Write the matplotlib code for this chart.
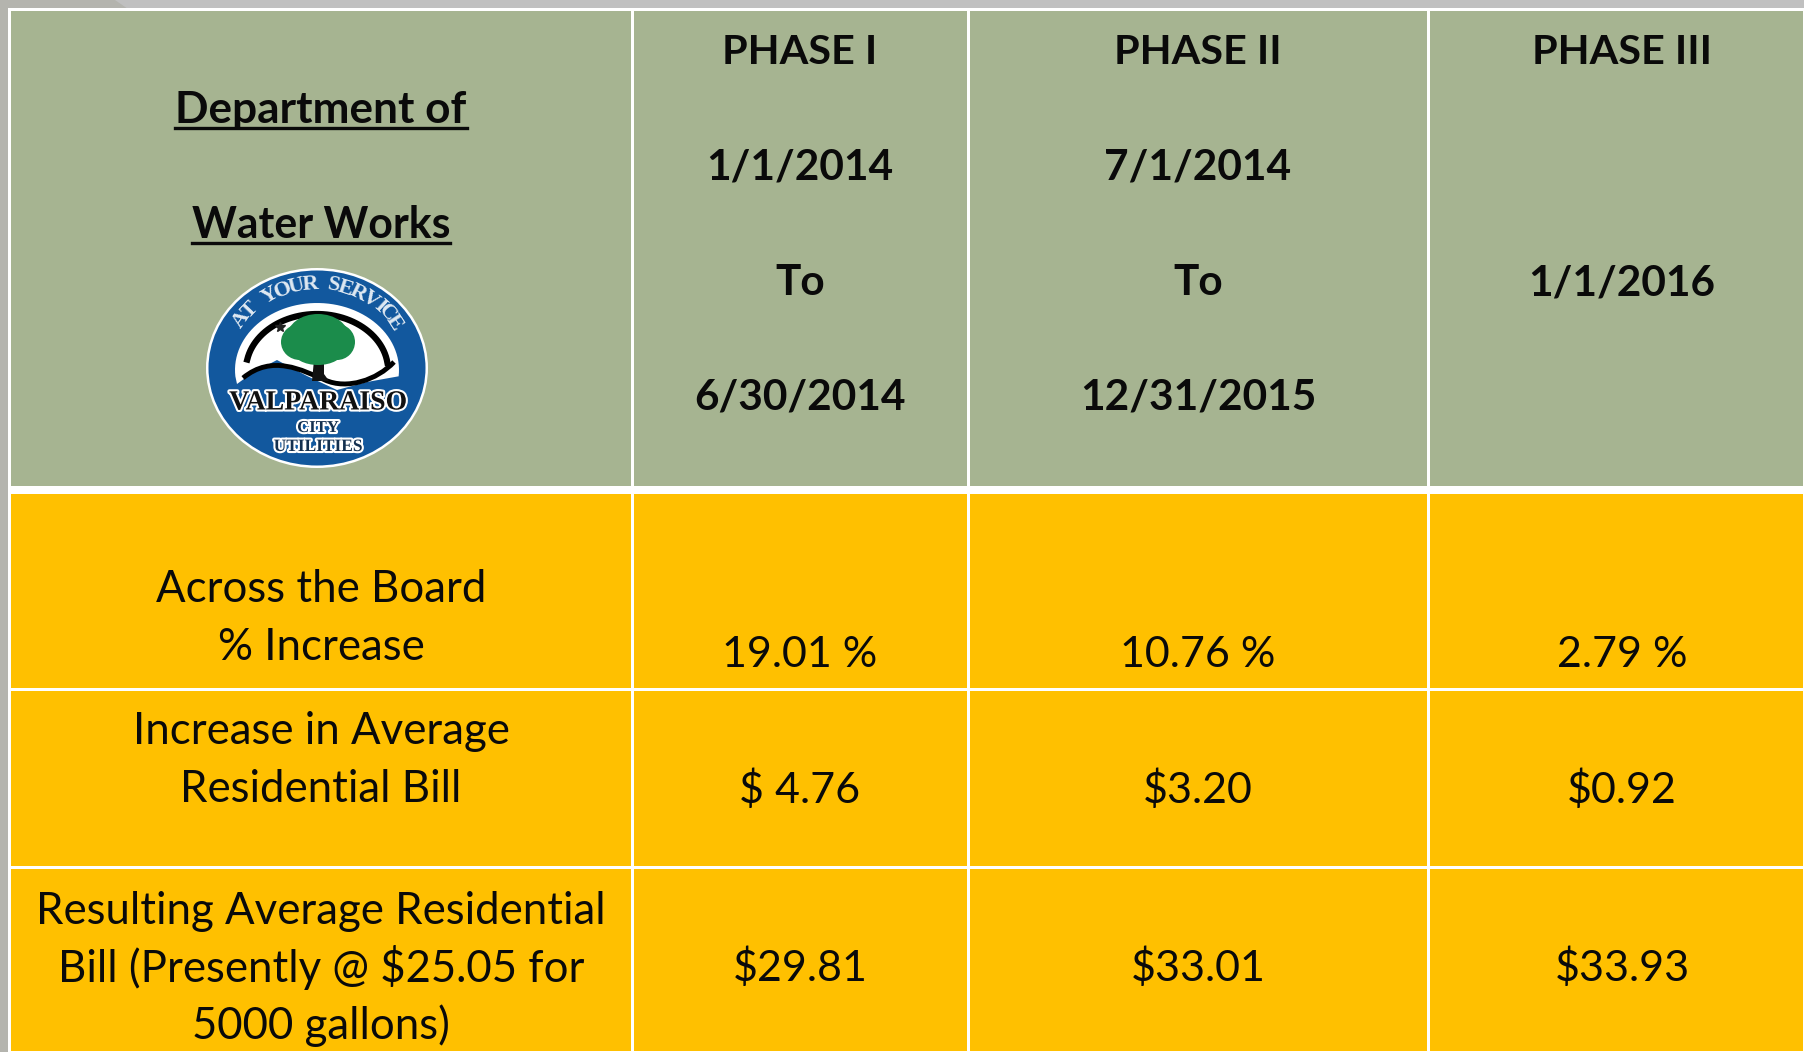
import numpy as np
import matplotlib
matplotlib.use("Agg")
import matplotlib.pyplot as plt
import matplotlib.patheffects as pe
from matplotlib.font_manager import FontProperties
from matplotlib.patches import Rectangle, Ellipse, Polygon, PathPatch
from matplotlib.path import Path
from matplotlib.textpath import TextPath

phase_titles = ["PHASE I", "PHASE II", "PHASE III"]
phase_lines = [["1/1/2014", "To", "6/30/2014"],
               ["7/1/2014", "To", "12/31/2015"],
               ["", "1/1/2016", ""]]
dept_lines = ["Department of", "Water Works"]
row_labels = [["Across the Board", "% Increase"],
              ["Increase in Average", "Residential Bill"],
              ["Resulting Average Residential", "Bill (Presently @ $25.05 for", "5000 gallons)"]]
pct_increase = ["19.01 %", "10.76 %", "2.79 %"]
bill_increase = ["$ 4.76", "$3.20", "$0.92"]
resulting_bill = ["$29.81", "$33.01", "$33.93"]

GREEN = "#a6b491"
GOLD = "#ffc000"
BLUE = "#12589e"
FONT = "Lato"

col_edges = [10, 632, 968, 1428, 1804]
col_centers = [321, 800, 1198, 1622]
row_edges = [494, 689, 867, 1052]
value_y = [655, 790, 968]
label_y = [[590, 648], [731, 790], [911, 968, 1026]]
header_y = [52, 168, 283, 398]


def draw_logo(ax, cx, cy):
    ax.add_patch(Ellipse((cx, cy), 222, 200, fc="white", ec="none", zorder=3))
    ax.add_patch(Ellipse((cx, cy), 217, 195, fc=BLUE, ec="none", zorder=3))

    # white fan, closed along the river at the bottom
    t = np.linspace(np.pi * 1.03, -0.03 * np.pi, 60)
    arc = np.c_[cx + 82 * np.cos(t), cy + 2 - 67 * np.sin(t)]
    verts = list(map(tuple, arc)) + [(cx + 50, cy + 14), (cx + 20, cy + 22), (cx - 10, cy + 8),
                                     (cx - 40, cy - 8), (cx - 65, cy + 5), (cx - 80, cy + 16)]
    ax.add_patch(Polygon(verts, fc="white", ec="none", zorder=4))
    ax.plot(cx + 71 * np.cos(t[5:-4]), cy + 2 - 56 * np.sin(t[5:-4]), color="black", lw=4.5, zorder=5)

    # river band
    river = Path([(cx - 74, cy + 10), (cx - 45, cy - 14), (cx - 15, cy + 2), (cx + 8, cy + 12),
                  (cx + 30, cy + 22), (cx + 60, cy + 12), (cx + 77, cy - 6)],
                 [Path.MOVETO] + [Path.CURVE4] * 6)
    ax.add_patch(PathPatch(river, fc="none", ec="black", lw=3.5, zorder=6))

    # tree
    ax.add_patch(Polygon([(cx - 3, cy - 8), (cx + 7, cy - 8), (cx + 7, cy + 6), (cx + 12, cy + 13), (cx - 5, cy + 13)],
                         fc="#111111", ec="none", zorder=6))
    for dx, dy, w, h in [(1, -31, 62, 46), (-17, -26, 38, 36), (20, -26, 36, 36), (1, -17, 50, 28)]:
        ax.add_patch(Ellipse((cx + dx, cy + dy), w, h, fc="#1b8c4b", ec="none", zorder=7))
    ax.plot([cx - 37], [cy - 41], marker="*", ms=7, color="#222222", zorder=7)

    # curved heading, letters spaced by their own widths
    heading = "AT YOUR SERVICE"
    fp = FontProperties(family="Liberation Serif", weight="bold")
    widths = [TextPath((0, 0), c if c != " " else "n", size=16, prop=fp).get_extents().width + 2 for c in heading]
    mids = np.cumsum(widths) - np.array(widths) / 2
    angles = 145 - 112 * (mids - mids[0]) / (mids[-1] - mids[0])
    for ch, a in zip(heading, angles):
        r = np.radians(a)
        ax.text(cx + 92 * np.cos(r), cy - 84 * np.sin(r), ch, family="Liberation Serif", weight="bold",
                size=16, color="#dfe9f2", ha="center", va="center", rotation=a - 90, zorder=8)

    stroke = [pe.withStroke(linewidth=3, foreground="white")]
    ax.text(cx + 1, cy + 35, "VALPARAISO", family="Liberation Serif", weight="bold", size=20, color="#111111",
            ha="center", va="center", zorder=9, path_effects=stroke)
    ax.text(cx + 1, cy + 60, "CITY", family="Liberation Serif", weight="bold", size=12, color="#14304f",
            ha="center", va="center", zorder=9, path_effects=stroke)
    ax.text(cx + 1, cy + 79, "UTILITIES", family="Liberation Serif", weight="bold", size=12.5, color="#14304f",
            ha="center", va="center", zorder=9, path_effects=stroke)


def main():
    fig = plt.figure(figsize=(18.04, 10.52), dpi=100)
    ax = fig.add_axes([0, 0, 1, 1])
    ax.set_xlim(0, 1804)
    ax.set_ylim(1052, 0)
    ax.axis("off")

    ax.add_patch(Rectangle((0, 0), 1804, 1052, fc="#c0c0c0", ec="none", zorder=0))
    ax.add_patch(Polygon([(0, 0), (115, 0), (128, 9), (8, 9), (8, 1052), (0, 1052)], fc="#b4b4ae", ec="none", zorder=0))
    ax.add_patch(Rectangle((8, 8), 1796, 1044, fc="white", ec="none", zorder=1))

    # header and body cells
    for left, right in zip(col_edges[:-1], col_edges[1:]):
        x0 = left + 2 if left > 10 else left + 1
        ax.add_patch(Rectangle((x0, 11), right - x0 - 1, 475, fc=GREEN, ec="none", zorder=2))
        for top, bottom in zip(row_edges[:-1], row_edges[1:]):
            y0 = top + 2 if top > 494 else top
            ax.add_patch(Rectangle((x0, y0), right - x0 - 1, bottom - y0 - 1, fc=GOLD, ec="none", zorder=2))

    text_kw = dict(family=FONT, color="#0a0a0a", ha="center", va="center", zorder=10)

    # underlined department title
    fig.canvas.draw()
    for line, y, fs in zip(dept_lines, [110, 225], [31.8, 30.8]):
        t = ax.text(col_centers[0], y, line, weight="bold", size=fs, **text_kw)
        bb = t.get_window_extent(fig.canvas.get_renderer())
        ax.plot([bb.x0, bb.x1], [y + 18, y + 18], color="#0a0a0a", lw=2.4, zorder=10)
    draw_logo(ax, 317, 368)

    for i, cx in enumerate(col_centers[1:]):
        ax.text(cx, header_y[0], phase_titles[i], weight="bold", size=29.8, **text_kw)
        for line, y in zip(phase_lines[i], header_y[1:]):
            if line:
                ax.text(cx, y, line, weight="bold", size=30.5, **text_kw)
        for values, y in zip([pct_increase, bill_increase, resulting_bill], value_y):
            ax.text(cx, y, values[i], size=31, **text_kw)

    for lines, ys in zip(row_labels, label_y):
        for line, y in zip(lines, ys):
            ax.text(col_centers[0], y, line, size=31.5, **text_kw)

    fig.savefig("out.png", dpi=100)


if __name__ == "__main__":
    main()
